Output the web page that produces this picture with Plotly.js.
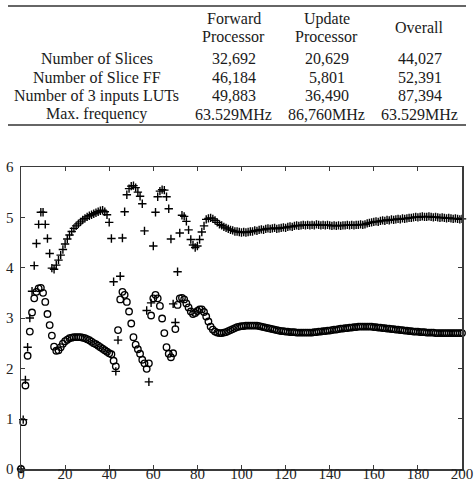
<!DOCTYPE html>
<html>
<head>
<meta charset="utf-8">
<script src="https://cdn.plot.ly/plotly-3.0.1.min.js"></script>
<style>html,body{margin:0;padding:0;background:#fff;}#chart{width:474px;height:498px;}</style>
</head>
<body>
<div id="chart"></div>
<script>
// ---- Table data ----
const colHeaders = [["Forward", "Processor"], ["Update", "Processor"], ["Overall"]];
const rowLabels = ["Number of Slices", "Number of Slice FF", "Number of 3 inputs LUTs", "Max. frequency"];
const forwardVals = ["32,692", "46,184", "49,883", "63.529MHz"];
const updateVals = ["20,629", "5,801", "36,490", "86,760MHz"];
const overallVals = ["44,027", "52,391", "87,394", "63.529MHz"];

// ---- Chart data (one sample per unit step, starting at 0) ----
const xTicks = [0, 20, 40, 60, 80, 100, 120, 140, 160, 180, 200];
const yTicks = [0, 1, 2, 3, 4, 5, 6];

const plusSeries = [
0, 0.98, 1.77, 2.42, 3.0, 3.53, 4.04, 4.48, 4.86, 5.1,
5.1, 4.86, 4.58, 4.28, 3.99, 3.97, 4.05, 4.15, 4.25, 4.36,
4.47, 4.57, 4.65, 4.72, 4.78, 4.83, 4.87, 4.91, 4.95, 4.98,
5.01, 5.03, 5.05, 5.07, 5.09, 5.11, 5.13, 5.14, 5.11, 5.05,
4.9, 4.58, 3.72, 1.94, 2.56, 3.83, 4.59, 5.11, 5.45, 5.57,
5.62, 5.63, 5.59, 5.5, 5.42, 5.27, 4.73, 3.15, 1.73, 3.3,
4.43, 5.1, 5.41, 5.52, 5.55, 5.54, 5.41, 5.17, 4.57, 3.28,
2.91, 3.92, 4.69, 5.04, 5.02, 4.92, 4.75, 4.56, 4.45, 4.4,
4.43, 4.56, 4.71, 4.83, 4.96, 4.98, 4.99, 4.97, 4.94, 4.9,
4.86, 4.84, 4.81, 4.79, 4.77, 4.75, 4.74, 4.72, 4.72, 4.71,
4.7, 4.71, 4.7, 4.71, 4.72, 4.72, 4.74, 4.73, 4.75, 4.76,
4.75, 4.77, 4.78, 4.77, 4.78, 4.79, 4.77, 4.78, 4.79, 4.8,
4.79, 4.81, 4.82, 4.81, 4.83, 4.84, 4.83, 4.84, 4.85, 4.84,
4.85, 4.84, 4.85, 4.84, 4.86, 4.85, 4.84, 4.85, 4.84, 4.85,
4.84, 4.83, 4.84, 4.83, 4.84, 4.83, 4.84, 4.84, 4.85, 4.84,
4.85, 4.84, 4.85, 4.85, 4.86, 4.85, 4.86, 4.88, 4.89, 4.9,
4.91, 4.92, 4.91, 4.93, 4.94, 4.93, 4.95, 4.94, 4.96, 4.95,
4.96, 4.97, 4.96, 4.98, 4.97, 4.98, 4.99, 4.99, 5.0, 5.01,
5.0, 5.01, 5.02, 5.01, 5.01, 5.02, 5.01, 5.0, 5.01, 5.0,
4.99, 5.0, 4.99, 4.98, 4.99, 4.98, 4.97, 4.98, 4.97, 4.96,
4.97
];

const circleSeries = [
0, 0.93, 1.66, 2.25, 2.73, 3.11, 3.39, 3.52, 3.59, 3.6,
3.5, 3.32, 3.08, 2.86, 2.65, 2.43, 2.35, 2.36, 2.42, 2.49,
2.54, 2.57, 2.6, 2.61, 2.62, 2.62, 2.62, 2.62, 2.61, 2.6,
2.58, 2.56, 2.53, 2.5, 2.48, 2.45, 2.42, 2.39, 2.36, 2.33,
2.3, 2.28, 2.15, 2.04, 2.76, 3.37, 3.52, 3.46, 3.32, 3.13,
2.89, 2.62, 2.47, 2.38, 2.29, 2.17, 2.1, 1.99, 2.1, 3.05,
3.39, 3.46, 3.39, 3.24, 2.99, 2.7, 2.42, 2.29, 2.22, 2.3,
2.78, 3.26, 3.39, 3.4, 3.37, 3.29, 3.21, 3.13, 3.08, 3.1,
3.14, 3.17, 3.17, 3.12, 3.03, 2.93, 2.83, 2.77, 2.73, 2.71,
2.7, 2.7, 2.71, 2.72, 2.74, 2.76, 2.78, 2.8, 2.82, 2.83,
2.84, 2.84, 2.85, 2.85, 2.85, 2.85, 2.85, 2.85, 2.84, 2.83,
2.82, 2.81, 2.8, 2.79, 2.78, 2.77, 2.76, 2.75, 2.74, 2.74,
2.73, 2.73, 2.72, 2.72, 2.72, 2.71, 2.71, 2.71, 2.71, 2.71,
2.71, 2.71, 2.71, 2.72, 2.72, 2.73, 2.73, 2.74, 2.74, 2.75,
2.75, 2.76, 2.77, 2.77, 2.78, 2.79, 2.79, 2.8, 2.8, 2.81,
2.81, 2.82, 2.82, 2.83, 2.83, 2.83, 2.83, 2.83, 2.83, 2.83,
2.82, 2.82, 2.81, 2.81, 2.8, 2.8, 2.79, 2.79, 2.78, 2.78,
2.77, 2.77, 2.76, 2.76, 2.75, 2.75, 2.74, 2.74, 2.73, 2.73,
2.73, 2.72, 2.72, 2.72, 2.71, 2.71, 2.71, 2.71, 2.7, 2.7,
2.7, 2.7, 2.7, 2.7, 2.7, 2.7, 2.7, 2.7, 2.7, 2.7,
2.7
];

// ---- Layout geometry ----
const W = 474, H = 498;
const M = {l: 21, r: 12, t: 167, b: 29};
const PW = W - M.l - M.r, PH = H - M.t - M.b;
function pxX(px) { return (px - M.l) / PW; }
function pxY(py) { return (H - M.b - py) / PH; }

const serif = "Liberation Serif, Times New Roman, serif";
const textColor = "#1a1a1a";
const annotations = [];
function addText(t, px, py) {
  annotations.push({
    text: t, x: pxX(px), y: pxY(py), xref: "paper", yref: "paper",
    xanchor: "center", yanchor: "middle", showarrow: false,
    font: {family: serif, size: 16, color: textColor}
  });
}
const colX = [233.5, 326.5, 419.5];
const labelX = 96.5;
const rowY = [58, 77, 95.5, 114];
// headers
colHeaders.forEach((lines, i) => {
  if (lines.length === 2) {
    addText(lines[0], colX[i], 18.5);
    addText(lines[1], colX[i], 36.5);
  } else {
    addText(lines[0], colX[i], 27.5);
  }
});
rowLabels.forEach((lab, r) => {
  addText(lab, labelX, rowY[r]);
  addText(forwardVals[r], colX[0], rowY[r]);
  addText(updateVals[r], colX[1], rowY[r]);
  addText(overallVals[r], colX[2], rowY[r]);
});

const shapes = [6, 125].map(py => ({
  type: "line", xref: "paper", yref: "paper",
  x0: pxX(8), x1: pxX(466), y0: pxY(py), y1: pxY(py),
  line: {color: "#333", width: 1.5}
}));

const axisCommon = {
  showgrid: false, zeroline: false, showline: true, linecolor: "#3a3a3a", linewidth: 1.5,
  mirror: "ticks", ticks: "inside", ticklen: 4, tickwidth: 1, tickcolor: "#3a3a3a",
  tickfont: {family: serif, size: 15, color: "#222"}, fixedrange: true
};

const traces = [
  {
    type: "scatter", mode: "markers", x0: 0, dx: 1, y: plusSeries, cliponaxis: false,
    marker: {symbol: "cross-thin-open", size: 6, color: "#000", line: {color: "#000", width: 1.4}},
    hoverinfo: "skip", showlegend: false
  },
  {
    type: "scatter", mode: "markers", x0: 0, dx: 1, y: circleSeries, cliponaxis: false,
    xaxis: "x2", yaxis: "y",
    marker: {symbol: "circle-open", size: 6.5, color: "#000", line: {color: "#000", width: 1.35}},
    hoverinfo: "skip", showlegend: false
  }
];

const layout = {
  width: W, height: H, margin: M, paper_bgcolor: "#fff", plot_bgcolor: "#fff",
  showlegend: false,
  xaxis: Object.assign({}, axisCommon, {range: [0, 200], tickvals: xTicks, showticklabels: false}),
  // same-range overlay axis that carries the x tick labels, placed a little higher than the frame
  xaxis2: {
    overlaying: "x", anchor: "free", position: 0.02, side: "bottom", range: [0, 200],
    tickvals: xTicks, ticktext: xTicks.map(String), showline: false, showgrid: false,
    zeroline: false, ticks: "", tickfont: {family: serif, size: 15, color: "#222"}, fixedrange: true
  },
  yaxis: Object.assign({}, axisCommon, {range: [0, 6], tickvals: yTicks, ticktext: yTicks.map(String), ticklabelstandoff: 3}),
  annotations: annotations, shapes: shapes
};

Plotly.newPlot("chart", traces, layout, {staticPlot: true, displayModeBar: false});
</script>
</body>
</html>
